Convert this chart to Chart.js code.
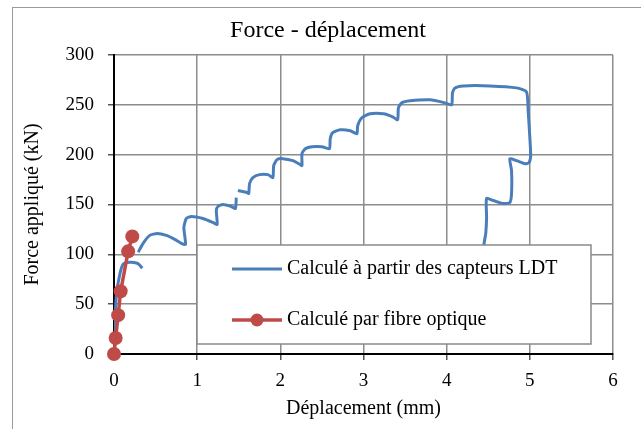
<!DOCTYPE html>
<html>
<head>
<meta charset="utf-8">
<script src="https://cdn.jsdelivr.net/npm/chart.js@4.4.1/dist/chart.umd.min.js"></script>
<style>
  html, body { margin: 0; padding: 0; background: #fff; overflow: hidden; }
  #frame { position: absolute; left: 12px; top: 7px; width: 700px; height: 500px; border: 1px solid #9a9a9a; }
  #c { position: absolute; left: 0; top: 0; }
</style>
</head>
<body>
<div id="frame"></div>
<canvas id="c" width="641" height="429"></canvas>
<script>
const chartTitle = "Force - déplacement";
const xTitle = "Déplacement (mm)";
const yTitle = "Force appliqué (kN)";
const ldtLabel = "Calculé à partir des capteurs LDT";
const fibreLabel = "Calculé par fibre optique";

// LDT curve, null marks a break in the trace
const ldtX = [0, 0.01, 0.03, 0.07, 0.11, 0.19, 0.28, 0.31, 0.34, null,
  0.29, 0.35, 0.43, 0.52, 0.63, 0.73, 0.81, 0.86, 0.84, 0.87, 0.93, 1.07, 1.19, 1.24,
  1.23, 1.25, 1.31, 1.41, 1.46, 1.47, null,
  1.49, 1.60, 1.62, 1.63, 1.67, 1.75, 1.85, 1.91, 1.92, 1.96, 2.03, 2.15, 2.24, 2.26,
  2.26, 2.30, 2.38, 2.50, 2.59, 2.60, 2.63, 2.72, 2.84, 2.92, 2.93, 2.98, 3.08, 3.24,
  3.35, 3.41, 3.42, 3.46, 3.56, 3.80, 3.98, 4.06, 4.07, 4.10, 4.20, 4.52, 4.84, 4.96,
  4.98, 5.00, 5.01, 4.99, 4.94, 4.84, 4.76, 4.78, 4.78, 4.76, 4.68, 4.56, 4.48, 4.48,
  4.47, 4.45, 4.44];
const ldtY = [0, 30, 60, 80, 90, 92, 91, 89, 86, null,
  102, 111, 119, 121, 119, 115, 111, 110, 127, 136, 138, 136, 132, 130,
  144, 148, 150, 148, 146, 157, null,
  164, 162, 161, 171, 177, 180, 180, 177, 189, 195, 196, 194, 190, 189,
  201, 206, 208, 208, 206, 216, 222, 225, 224, 221, 229, 237, 241, 241,
  238, 235, 247, 252, 254, 255, 252, 250, 262, 267, 269, 269, 267, 263,
  244, 217, 199, 192, 191, 194, 196, 184, 161, 152, 151, 154, 156, 137,
  121, 111, 95];

const fibreX = [0, 0.02, 0.05, 0.08, 0.17, 0.22];
const fibreY = [0, 16, 39, 63, 103, 118];

const xTicks = [0, 1, 2, 3, 4, 5, 6];
const yTicks = [0, 50, 100, 150, 200, 250, 300];

const blue = "#4a7ebb";
const red = "#be4b48";
const serif = "'Liberation Serif', 'Times New Roman', serif";

function toPoints(xs, ys) {
  return xs.map((x, i) => (x === null ? { x: NaN, y: null } : { x: x, y: ys[i] }));
}

const titleAndLegend = {
  id: "titleAndLegend",
  afterDatasetsDraw(chart) {
    const ctx = chart.ctx;
    ctx.save();
    // title
    ctx.fillStyle = "#000";
    ctx.font = "24px " + serif;
    ctx.textAlign = "center";
    ctx.textBaseline = "middle";
    ctx.fillText(chartTitle, 328, 31);

    // legend box inside plot
    const lx = 197, ly = 245, lw = 394, lh = 99;
    ctx.fillStyle = "#fff";
    ctx.fillRect(lx, ly, lw, lh);
    ctx.strokeStyle = "#8a8a8a";
    ctx.lineWidth = 1.5;
    ctx.strokeRect(lx, ly, lw, lh);

    ctx.lineWidth = 3;
    ctx.strokeStyle = blue;
    ctx.beginPath();
    ctx.moveTo(232, 269);
    ctx.lineTo(282, 269);
    ctx.stroke();

    ctx.lineWidth = 3.5;
    ctx.strokeStyle = red;
    ctx.beginPath();
    ctx.moveTo(232, 320);
    ctx.lineTo(282, 320);
    ctx.stroke();
    ctx.fillStyle = red;
    ctx.beginPath();
    ctx.arc(257, 320, 6.5, 0, Math.PI * 2);
    ctx.fill();

    ctx.fillStyle = "#000";
    ctx.font = "20px " + serif;
    ctx.textAlign = "left";
    ctx.fillText(ldtLabel, 287, 269);
    ctx.fillText(fibreLabel, 287, 320);
    ctx.restore();
  }
};

new Chart(document.getElementById("c"), {
  type: "scatter",
  data: {
    datasets: [
      {
        label: fibreLabel,
        data: toPoints(fibreX, fibreY),
        showLine: true,
        clip: false,
        borderColor: red,
        backgroundColor: red,
        borderWidth: 3.5,
        pointRadius: 7,
        pointBorderWidth: 0,
        order: 0
      },
      {
        label: ldtLabel,
        data: toPoints(ldtX, ldtY),
        showLine: true,
        spanGaps: false,
        borderColor: blue,
        backgroundColor: blue,
        borderWidth: 3,
        pointRadius: 0,
        tension: 0.2,
        order: 1
      }
    ]
  },
  options: {
    responsive: false,
    animation: false,
    devicePixelRatio: 1,
    layout: { padding: { top: 55, left: 16, right: 28, bottom: 0 } },
    plugins: {
      legend: { display: false },
      title: { display: false },
      tooltip: { enabled: false }
    },
    scales: {
      x: {
        type: "linear",
        min: 0,
        max: 6,
        afterBuildTicks: s => { s.ticks = xTicks.map(v => ({ value: v })); },
        afterFit: s => { s.height = 75; },
        grid: { color: "#8c8c8c", lineWidth: 1.5, tickLength: 6, tickColor: "#555" },
        border: { color: "#000", width: 2 },
        ticks: { color: "#000", font: { family: serif, size: 19 }, padding: 10, maxRotation: 0 },
        title: { display: true, text: xTitle, color: "#000", font: { family: serif, size: 20 }, padding: { top: 0, bottom: 8 } }
      },
      y: {
        type: "linear",
        min: 0,
        max: 300,
        afterBuildTicks: s => { s.ticks = yTicks.map(v => ({ value: v })); },
        afterFit: s => { s.width = 98; },
        grid: { color: "#8c8c8c", lineWidth: 1.5, tickLength: 6, tickColor: "#555" },
        border: { color: "#000", width: 2 },
        ticks: { color: "#000", font: { family: serif, size: 19 }, padding: 14 },
        title: { display: true, text: yTitle, color: "#000", font: { family: serif, size: 20 }, padding: { top: 5, bottom: 0 } }
      }
    }
  },
  plugins: [titleAndLegend]
});
</script>
</body>
</html>
